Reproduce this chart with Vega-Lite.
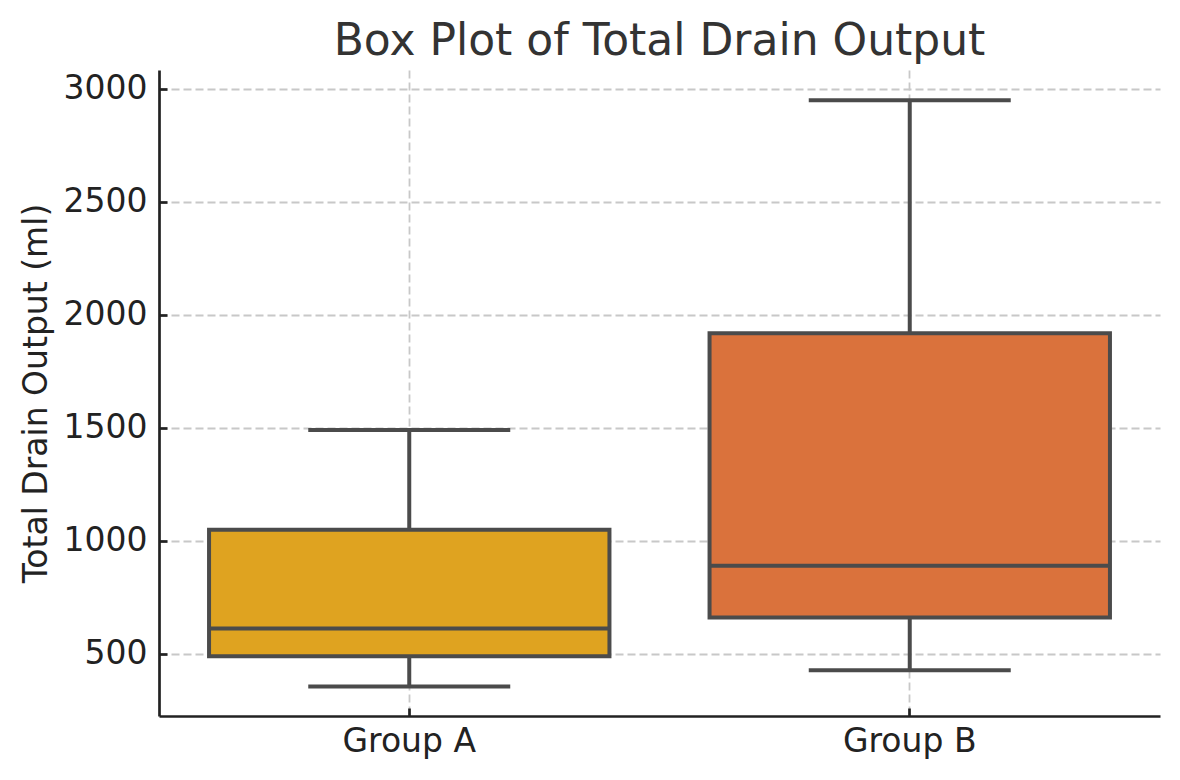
{
  "$schema": "https://vega.github.io/schema/vega-lite/v6.json",
  "width": 1001,
  "height": 646,
  "autosize": {"type": "none"},
  "padding": {"left": 159, "top": 70, "right": 20, "bottom": 64},
  "background": "white",
  "config": {
    "view": {"stroke": null},
    "font": "DejaVu Sans",
    "axis": {
      "domainColor": "#222222",
      "domainWidth": 2.7,
      "tickColor": "#222222",
      "tickWidth": 2.7,
      "tickSize": -8,
      "labelFont": "DejaVu Sans",
      "labelFontSize": 33,
      "labelColor": "#222222",
      "titleFont": "DejaVu Sans",
      "titleFontSize": 33,
      "titleFontWeight": "normal",
      "titleColor": "#222222",
      "gridColor": "#c8c8c8",
      "gridDash": [8, 4],
      "gridWidth": 1.8,
      "zindex": 1
    }
  },
  "title": {
    "text": "Box Plot of Total Drain Output",
    "font": "DejaVu Sans",
    "fontSize": 44,
    "fontWeight": "normal",
    "color": "#333333",
    "anchor": "middle",
    "offset": 6
  },
  "data": {
    "values": [
      {"group": "Group A", "lower": 355, "q1": 489, "median": 612, "q3": 1049, "upper": 1490},
      {"group": "Group B", "lower": 427, "q1": 661, "median": 890, "q3": 1918, "upper": 2948}
    ]
  },
  "encoding": {
    "x": {
      "field": "group",
      "type": "nominal",
      "scale": {"paddingInner": 0.2, "paddingOuter": 0.1},
      "axis": {"title": null, "labelAngle": 0, "grid": true, "labelPadding": 17}
    }
  },
  "layer": [
    {
      "mark": {"type": "rule", "color": "#4b4b4b", "strokeWidth": 4},
      "encoding": {
        "y": {
          "field": "lower",
          "type": "quantitative",
          "title": "Total Drain Output (ml)",
          "scale": {"domain": [225, 3082], "nice": false, "zero": false},
          "axis": {"values": [500, 1000, 1500, 2000, 2500, 3000], "format": "d", "grid": true, "labelPadding": 20, "titlePadding": 10}
        },
        "y2": {"field": "upper"}
      }
    },
    {
      "mark": {"type": "bar", "stroke": "#4b4b4b", "strokeWidth": 4, "opacity": 1},
      "encoding": {
        "y": {"field": "q1", "type": "quantitative", "title": "Total Drain Output (ml)"},
        "y2": {"field": "q3"},
        "color": {
          "field": "group",
          "type": "nominal",
          "scale": {"domain": ["Group A", "Group B"], "range": ["#DFA320", "#DA723C"]},
          "legend": null
        }
      }
    },
    {
      "mark": {"type": "tick", "color": "#4b4b4b", "thickness": 4, "size": 400, "opacity": 1},
      "encoding": {"y": {"field": "median", "type": "quantitative", "title": "Total Drain Output (ml)"}}
    },
    {
      "mark": {"type": "tick", "color": "#4b4b4b", "thickness": 4, "size": 202, "opacity": 1},
      "encoding": {"y": {"field": "lower", "type": "quantitative", "title": "Total Drain Output (ml)"}}
    },
    {
      "mark": {"type": "tick", "color": "#4b4b4b", "thickness": 4, "size": 202, "opacity": 1},
      "encoding": {"y": {"field": "upper", "type": "quantitative", "title": "Total Drain Output (ml)"}}
    }
  ]
}
